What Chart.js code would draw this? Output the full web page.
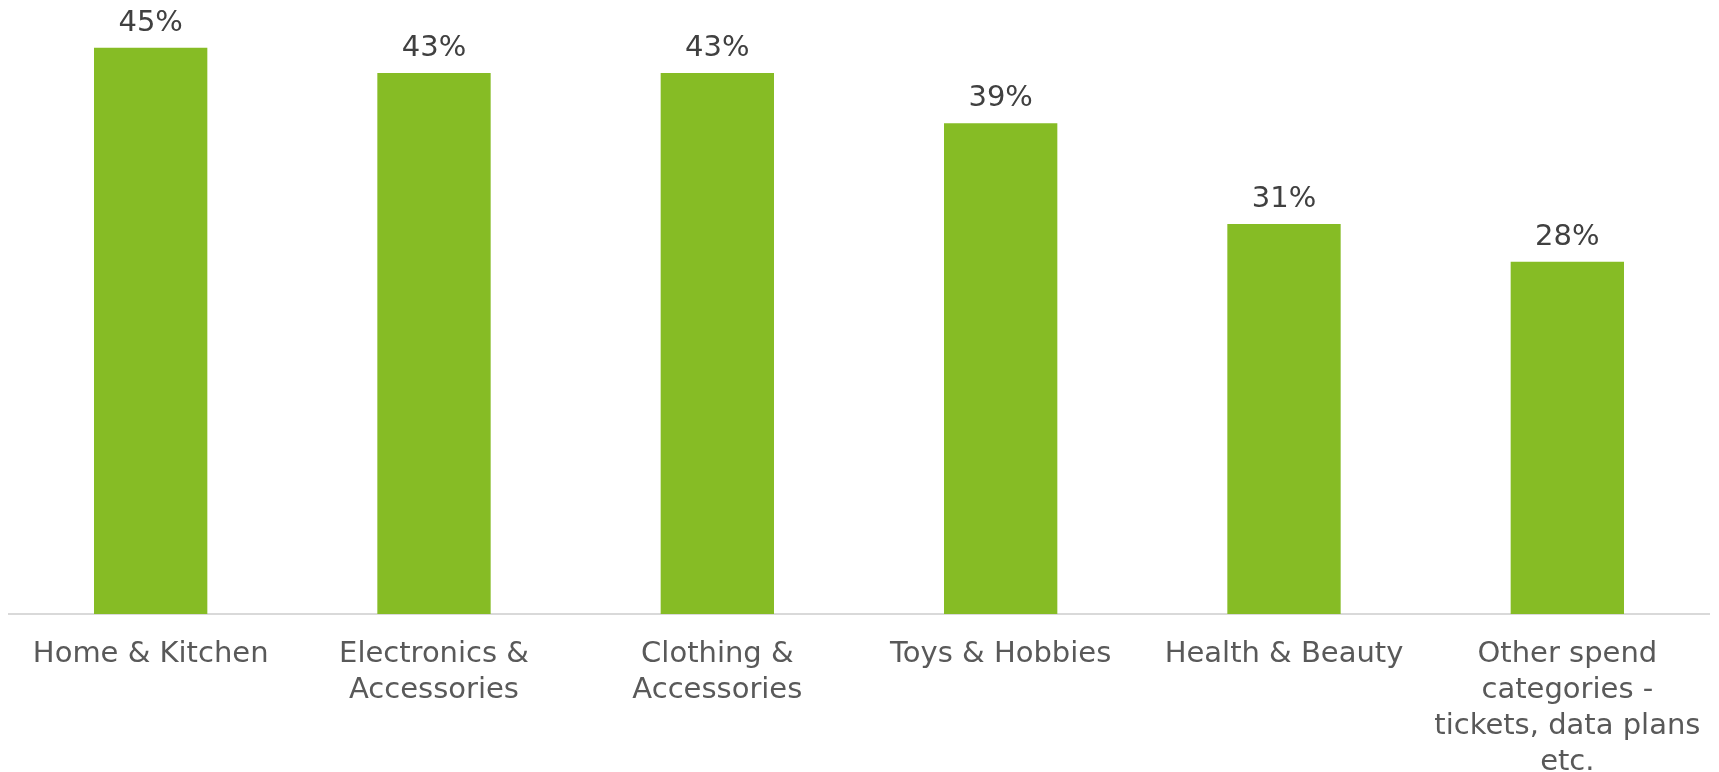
<!DOCTYPE html>
<html>
<head>
<meta charset="utf-8">
<title>Spend categories</title>
<script src="https://cdn.jsdelivr.net/npm/chart.js@4/dist/chart.umd.min.js"></script>
<style>
  html, body { margin: 0; padding: 0; background: #ffffff; }
  #wrap { width: 1719px; height: 772px; }
</style>
</head>
<body>
<div id="wrap"><canvas id="chart" width="1719" height="772"></canvas></div>
<script>
// Category labels (multi-line where the label wraps)
const categories = [
  'Home & Kitchen',
  ['Electronics &', 'Accessories'],
  ['Clothing &', 'Accessories'],
  'Toys & Hobbies',
  'Health & Beauty',
  ['Other spend', 'categories -', 'tickets, data plans', 'etc.']
];

// Share of respondents per category, in percent
const shares = [45, 43, 43, 39, 31, 28];

// Value labels printed above each bar
const valueLabels = shares.map(v => v + '%');

const barColor = '#86BC25';
const fontFamily = '"DejaVu Sans", Verdana, sans-serif';

// Draws the percentage above each bar
const valueLabelPlugin = {
  id: 'valueLabels',
  afterDatasetsDraw(chart) {
    const { ctx } = chart;
    const meta = chart.getDatasetMeta(0);
    ctx.save();
    ctx.font = '29px ' + fontFamily;
    ctx.fillStyle = '#404040';
    ctx.textAlign = 'center';
    ctx.textBaseline = 'alphabetic';
    meta.data.forEach((bar, i) => {
      ctx.fillText(valueLabels[i], bar.x, bar.y - 17);
    });
    ctx.restore();
  }
};

new Chart(document.getElementById('chart'), {
  type: 'bar',
  data: {
    labels: categories,
    datasets: [{
      data: shares,
      backgroundColor: barColor,
      borderWidth: 0,
      barPercentage: 0.4,
      categoryPercentage: 1.0
    }]
  },
  options: {
    responsive: false,
    animation: false,
    layout: { autoPadding: false, padding: { left: 9, right: 10, top: 0, bottom: 0 } },
    plugins: {
      legend: { display: false },
      tooltip: { enabled: false }
    },
    scales: {
      x: {
        grid: { display: false, drawTicks: false },
        border: { display: true, color: '#d9d9d9', width: 2 },
        ticks: {
          color: '#595959',
          padding: 23,
          maxRotation: 0,
          autoSkip: false,
          font: { family: fontFamily, size: 29, lineHeight: 1.235 }
        },
        afterFit(scale) {
          // fixed axis band height; labels may overhang the plot edges
          scale.height = 158;
          scale.paddingLeft = 0;
          scale.paddingRight = 0;
        }
      },
      y: {
        display: false,
        min: 0,
        max: 48.8
      }
    }
  },
  plugins: [valueLabelPlugin]
});
</script>
</body>
</html>
